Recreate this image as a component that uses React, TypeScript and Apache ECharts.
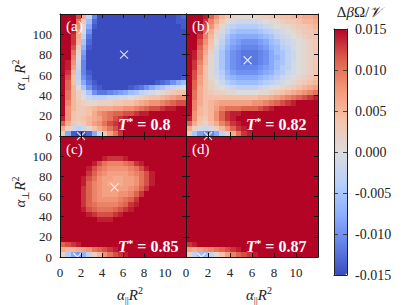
import React, { useEffect, useRef } from 'react';
import * as echarts from 'echarts';

// grid cell centres (alpha_par R^2 and alpha_perp R^2)
const xCenters = [0.25,0.75,1.25,1.75,2.25,2.75,3.25,3.75,4.25,4.75,5.25,5.75,6.25,6.75,7.25,7.75,8.25,8.75,9.25,9.75,10.25,10.75,11.25,11.75];
const yCenters = [117.5,112.5,107.5,102.5,97.5,92.5,87.5,82.5,77.5,72.5,67.5,62.5,57.5,52.5,47.5,42.5,37.5,32.5,27.5,22.5,17.5,12.5,7.5,2.5];

// Delta beta Omega / V, in units of 1e-3, rows from top (y=117.5) to bottom (y=2.5)
const fieldA = [
  [15,15,15,12,6,-3,-11,-15,-15,-15,-15,-15,-15,-15,-15,-15,-15,-15,-15,-15,-15,-15,-14,-13],
  [15,15,15,10,3,-6,-13,-15,-15,-15,-15,-15,-15,-15,-15,-15,-15,-15,-15,-15,-15,-15,-14,-14],
  [15,15,14,9,1,-8,-14,-15,-15,-15,-15,-15,-15,-15,-15,-15,-15,-15,-15,-15,-15,-15,-15,-14],
  [15,15,14,7,-1,-10,-15,-15,-15,-15,-15,-15,-15,-15,-15,-15,-15,-15,-15,-15,-15,-15,-15,-15],
  [15,15,13,6,-3,-12,-15,-15,-15,-15,-15,-15,-15,-15,-15,-15,-15,-15,-15,-15,-15,-15,-15,-15],
  [15,15,13,5,-5,-13,-15,-15,-15,-15,-15,-15,-15,-15,-15,-15,-15,-15,-15,-15,-15,-15,-15,-15],
  [15,15,12,3,-7,-14,-15,-15,-15,-15,-15,-15,-15,-15,-15,-15,-15,-15,-15,-15,-15,-15,-15,-15],
  [15,15,10,1,-9,-15,-15,-15,-15,-15,-15,-15,-15,-15,-15,-15,-15,-15,-15,-15,-15,-15,-15,-15],
  [15,15,9,0,-10,-15,-15,-15,-15,-15,-15,-15,-15,-15,-15,-15,-15,-15,-15,-15,-15,-15,-15,-15],
  [15,14,8,-1,-11,-15,-15,-15,-15,-15,-15,-15,-15,-15,-15,-15,-15,-15,-15,-15,-15,-15,-15,-15],
  [15,14,7,-2,-11,-15,-15,-15,-15,-15,-15,-15,-15,-15,-15,-15,-15,-15,-15,-15,-15,-15,-15,-15],
  [15,13,5,-3,-11,-14,-15,-15,-15,-15,-15,-15,-15,-15,-15,-15,-15,-15,-15,-15,-15,-15,-15,-15],
  [15,12,4,-3,-10,-13,-15,-15,-15,-15,-15,-15,-15,-15,-15,-15,-15,-15,-15,-15,-15,-15,-15,-14],
  [15,11,4,-2,-8,-12,-14,-15,-15,-15,-15,-15,-15,-15,-15,-15,-15,-15,-14,-13,-12,-10,-8,-6],
  [15,11,5,0,-5,-10,-13,-14,-15,-15,-15,-15,-15,-14,-13,-12,-10,-8,-6,-5,-3,-2,-1,0],
  [15,10,5,2,-1,-5,-10,-12,-12,-11,-10,-9,-8,-6,-5,-3,-2,-1,0,1,2,3,4,4],
  [15,10,5,2,0,-2,-3,-3,-3,-2,-2,-1,-1,0,1,2,3,4,4,5,6,7,8,8],
  [15,9,5,3,2,1,1,2,2,2,3,3,4,4,5,6,7,8,8,9,10,11,12,12],
  [15,8,5,3,3,4,5,6,6,6,7,7,8,8,9,10,11,12,12,13,14,14,15,15],
  [15,8,4,3,3,4,6,8,9,10,11,11,12,12,13,14,14,15,15,15,15,15,15,15],
  [14,8,4,3,4,5,6,7,9,10,12,13,14,15,15,15,15,15,15,15,15,15,15,15],
  [11,6,3,2,3,5,7,8,10,12,13,14,15,15,15,15,15,15,15,15,15,15,15,15],
  [6,2,-2,-3,-2,1,4,6,8,10,12,14,15,15,15,15,15,15,15,15,15,15,15,15],
  [3,-8,-14,-15,-15,-13,-8,-2,3,7,10,13,15,15,15,15,15,15,15,15,15,15,15,15],
];

const fieldB = [
  [15,15,15,14,11,8,5,3,2,1,1,1,1,2,2,3,3,4,4,5,5,6,6,7],
  [15,15,15,13,9,6,3,1,-1,-2,-2,-2,-2,-1,0,1,1,2,3,3,4,5,5,6],
  [15,15,14,12,8,4,1,-2,-3,-4,-4,-4,-4,-3,-2,-1,0,1,1,2,3,3,4,5],
  [15,15,14,11,6,2,-1,-3,-5,-6,-6,-6,-6,-5,-4,-3,-2,-1,0,1,2,3,3,4],
  [15,15,13,9,5,1,-2,-5,-7,-8,-8,-8,-8,-7,-6,-5,-3,-2,-1,0,1,2,3,3],
  [15,15,12,8,4,0,-3,-6,-8,-9,-10,-10,-10,-9,-8,-6,-5,-3,-2,-1,0,1,2,3],
  [15,15,11,7,3,-1,-4,-7,-9,-10,-11,-11,-11,-10,-9,-7,-6,-4,-3,-1,0,1,2,3],
  [15,14,10,6,2,-2,-5,-8,-10,-11,-12,-12,-12,-11,-10,-8,-6,-5,-3,-2,0,1,2,3],
  [15,14,10,5,1,-2,-5,-8,-10,-11,-12,-12,-12,-11,-10,-8,-7,-5,-3,-2,0,1,2,3],
  [15,13,9,5,1,-2,-5,-8,-10,-11,-12,-12,-12,-11,-10,-8,-6,-5,-3,-1,0,1,2,3],
  [15,13,8,4,1,-2,-5,-8,-10,-11,-11,-11,-11,-10,-9,-8,-6,-4,-3,-1,0,1,2,3],
  [15,12,8,4,1,-2,-4,-7,-9,-10,-10,-10,-10,-9,-8,-7,-5,-4,-2,-1,0,1,2,3],
  [15,12,7,4,1,-1,-3,-6,-7,-8,-8,-8,-8,-7,-6,-5,-4,-2,-1,0,1,2,3,4],
  [15,11,7,4,2,0,-2,-4,-5,-6,-6,-6,-6,-5,-4,-3,-2,-1,0,1,2,3,4,5],
  [15,11,6,4,2,1,0,-1,-2,-3,-3,-3,-3,-2,-1,0,0,1,2,3,4,5,6,7],
  [15,10,6,4,3,2,2,1,1,0,0,0,0,1,1,2,3,4,5,6,7,8,9,10],
  [15,10,6,4,4,4,4,4,4,4,4,4,4,5,5,6,7,8,9,10,11,12,13,14],
  [15,9,6,4,5,6,7,7,7,7,7,7,8,8,9,10,11,12,13,14,15,15,15,15],
  [15,9,5,4,5,7,9,10,10,10,11,11,11,12,13,14,15,15,15,15,15,15,15,15],
  [15,8,5,4,5,8,11,13,14,14,15,15,15,15,15,15,15,15,15,15,15,15,15,15],
  [14,8,4,3,5,8,11,13,14,15,15,15,15,15,15,15,15,15,15,15,15,15,15,15],
  [11,6,3,2,4,6,9,11,13,14,15,15,15,15,15,15,15,15,15,15,15,15,15,15],
  [6,2,-1,-2,-1,2,5,8,11,13,14,15,15,15,15,15,15,15,15,15,15,15,15,15],
  [3,-5,-9,-11,-11,-8,-3,2,6,10,13,14,15,15,15,15,15,15,15,15,15,15,15,15],
];

const fieldC = [
  [15,15,15,15,15,15,15,15,15,15,15,15,15,15,15,15,15,15,15,15,15,15,15,15],
  [15,15,15,15,15,15,15,15,15,15,15,15,15,15,15,15,15,15,15,15,15,15,15,15],
  [15,15,15,15,15,15,15,15,15,15,15,15,15,15,15,15,15,15,15,15,15,15,15,15],
  [15,15,15,15,15,15,15,15,15,15,15,15,15,15,15,15,15,15,15,15,15,15,15,15],
  [15,15,15,15,15,15,15,15,14,13,13,13,14,15,15,15,15,15,15,15,15,15,15,15],
  [15,15,15,15,15,15,14,12,10,9,9,9,10,11,13,14,15,15,15,15,15,15,15,15],
  [15,15,15,15,15,14,12,10,9,8,8,8,8,9,10,12,14,15,15,15,15,15,15,15],
  [15,15,15,15,15,13,11,9,8,7,7,7,7,8,9,10,12,14,15,15,15,15,15,15],
  [15,15,15,15,14,12,10,8,7,7,6,6,7,7,8,10,12,14,15,15,15,15,15,15],
  [15,15,15,15,14,11,9,8,7,6,6,6,7,7,8,10,12,14,15,15,15,15,15,15],
  [15,15,15,15,13,11,9,8,7,7,7,7,7,8,9,11,13,15,15,15,15,15,15,15],
  [15,15,15,15,13,11,9,8,7,7,7,8,8,9,11,13,15,15,15,15,15,15,15,15],
  [15,15,15,15,13,11,9,8,8,8,8,9,10,11,13,15,15,15,15,15,15,15,15,15],
  [15,15,15,15,13,11,10,9,9,9,9,10,11,13,14,15,15,15,15,15,15,15,15,15],
  [15,15,15,15,14,12,11,10,10,10,11,12,13,14,15,15,15,15,15,15,15,15,15,15],
  [15,15,15,15,15,14,13,12,12,12,13,14,15,15,15,15,15,15,15,15,15,15,15,15],
  [15,15,15,15,15,15,15,14,14,14,15,15,15,15,15,15,15,15,15,15,15,15,15,15],
  [15,15,15,15,15,15,15,15,15,15,15,15,15,15,15,15,15,15,15,15,15,15,15,15],
  [15,15,15,15,15,15,15,15,15,15,15,15,15,15,15,15,15,15,15,15,15,15,15,15],
  [15,15,15,15,15,15,15,15,15,15,15,15,15,15,15,15,15,15,15,15,15,15,15,15],
  [15,15,15,15,15,15,15,15,15,15,15,15,15,15,15,15,15,15,15,15,15,15,15,15],
  [11,12,13,14,15,15,15,15,15,15,15,15,15,15,15,15,15,15,15,15,15,15,15,15],
  [6,5,5,6,7,8,10,11,12,13,14,15,15,15,15,15,15,15,15,15,15,15,15,15],
  [2,-4,-8,-9,-7,-3,2,5,8,10,12,13,14,15,15,15,15,15,15,15,15,15,15,15],
];

const fieldD = [
  [15,15,15,15,15,15,15,15,15,15,15,15,15,15,15,15,15,15,15,15,15,15,15,15],
  [15,15,15,15,15,15,15,15,15,15,15,15,15,15,15,15,15,15,15,15,15,15,15,15],
  [15,15,15,15,15,15,15,15,15,15,15,15,15,15,15,15,15,15,15,15,15,15,15,15],
  [15,15,15,15,15,15,15,15,15,15,15,15,15,15,15,15,15,15,15,15,15,15,15,15],
  [15,15,15,15,15,15,15,15,15,15,15,15,15,15,15,15,15,15,15,15,15,15,15,15],
  [15,15,15,15,15,15,15,15,15,15,15,15,15,15,15,15,15,15,15,15,15,15,15,15],
  [15,15,15,15,15,15,15,15,15,15,15,15,15,15,15,15,15,15,15,15,15,15,15,15],
  [15,15,15,15,15,15,15,15,15,15,15,15,15,15,15,15,15,15,15,15,15,15,15,15],
  [15,15,15,15,15,15,15,15,15,15,15,15,15,15,15,15,15,15,15,15,15,15,15,15],
  [15,15,15,15,15,15,15,15,15,15,15,15,15,15,15,15,15,15,15,15,15,15,15,15],
  [15,15,15,15,15,15,15,15,15,15,15,15,15,15,15,15,15,15,15,15,15,15,15,15],
  [15,15,15,15,15,15,15,15,15,15,15,15,15,15,15,15,15,15,15,15,15,15,15,15],
  [15,15,15,15,15,15,15,15,15,15,15,15,15,15,15,15,15,15,15,15,15,15,15,15],
  [15,15,15,15,15,15,15,15,15,15,15,15,15,15,15,15,15,15,15,15,15,15,15,15],
  [15,15,15,15,15,15,15,15,15,15,15,15,15,15,15,15,15,15,15,15,15,15,15,15],
  [15,15,15,15,15,15,15,15,15,15,15,15,15,15,15,15,15,15,15,15,15,15,15,15],
  [15,15,15,15,15,15,15,15,15,15,15,15,15,15,15,15,15,15,15,15,15,15,15,15],
  [15,15,15,15,15,15,15,15,15,15,15,15,15,15,15,15,15,15,15,15,15,15,15,15],
  [15,15,15,15,15,15,15,15,15,15,15,15,15,15,15,15,15,15,15,15,15,15,15,15],
  [15,15,15,15,15,15,15,15,15,15,15,15,15,15,15,15,15,15,15,15,15,15,15,15],
  [15,15,15,15,15,15,15,15,15,15,15,15,15,15,15,15,15,15,15,15,15,15,15,15],
  [13,14,15,15,15,15,15,15,15,15,15,15,15,15,15,15,15,15,15,15,15,15,15,15],
  [7,6,7,8,9,10,11,12,13,14,15,15,15,15,15,15,15,15,15,15,15,15,15,15],
  [2,-3,-6,-6,-3,1,4,7,9,11,12,13,14,15,15,15,15,15,15,15,15,15,15,15],
];

// minima markers (x)
const markersA = [[6.1, 80], [2.0, 0]];
const markersB = [[5.6, 74.5], [2.0, 0]];
const markersC = [[5.2, 69], [1.65, 0]];
const markersD = [[1.4, 0]];

const panelLetters = ['(a)', '(b)', '(c)', '(d)'];
const panelTemps = ['0.8', '0.82', '0.85', '0.87'];

const colorbarMin = -0.015;
const colorbarMax = 0.015;
const colorbarStep = 0.005;

const fields = [fieldA, fieldB, fieldC, fieldD];
const markers = [markersA, markersB, markersC, markersD];

const FONT = 'Liberation Serif';
const coolwarm = ['#3b4cc0', '#6282ea', '#8db0fe', '#b8d0f9', '#dddcdc', '#f5c4ac', '#f49a7b', '#de604d', '#b40426'];

const HX = 0.25;
const HY = 2.5;

const toCells = (field: number[][]) => {
  const out: number[][] = [];
  field.forEach((row, i) => {
    row.forEach((v, j) => {
      out.push([xCenters[j], yCenters[i], v / 1000]);
    });
  });
  return out;
};

const renderItem = (params: any, api: any) => {
  const x = api.value(0);
  const y = api.value(1);
  const p0 = api.coord([x - HX, y + HY]);
  const p1 = api.coord([x + HX, y - HY]);
  const x0 = Math.round(p0[0]);
  const y0 = Math.round(p0[1]);
  const x1 = Math.round(p1[0]);
  const y1 = Math.round(p1[1]);
  return {
    type: 'rect',
    shape: { x: x0, y: y0, width: x1 - x0, height: y1 - y0 },
    style: { fill: api.visual('color') },
  };
};

const grids = [
  { left: 60, top: 14, width: 126, height: 122 },
  { left: 186, top: 14, width: 132, height: 122 },
  { left: 60, top: 136, width: 126, height: 121 },
  { left: 186, top: 136, width: 132, height: 121 },
  { left: 334, top: 29, width: 13, height: 246 },
];

const lineCol = '#151515';
const labelStyle = { fontFamily: FONT, fontSize: 13, color: '#222' };

function buildOption() {
  const xAxis: any[] = [];
  const yAxis: any[] = [];
  for (let k = 0; k < 4; k++) {
    const showX = k >= 2;
    const showY = k % 2 === 0;
    const base = {
      gridIndex: k,
      type: 'value',
      z: 10,
      axisLine: { show: true, onZero: false, lineStyle: { color: lineCol, width: 1 } },
      axisTick: { show: true, inside: true, length: 4, lineStyle: { color: lineCol, width: 1 } },
      splitLine: { show: false },
    };
    xAxis.push({ ...base, min: 0, max: 12, interval: 2, position: 'bottom',
      axisLabel: { show: showX, showMaxLabel: false, margin: 9, ...labelStyle } });
    xAxis.push({ ...base, min: 0, max: 12, interval: 2, position: 'top', axisLabel: { show: false } });
    yAxis.push({ ...base, min: 0, max: 120, interval: 20, position: 'left',
      axisLabel: { show: showY, showMaxLabel: false, margin: 8, ...labelStyle } });
    yAxis.push({ ...base, min: 0, max: 120, interval: 20, position: 'right', axisLabel: { show: false } });
  }
  // colorbar frame + ticks
  const cbBase = {
    gridIndex: 4, z: 10,
    axisLine: { show: true, onZero: false, lineStyle: { color: '#222', width: 1 } },
    axisTick: { show: false },
  };
  xAxis.push({ ...cbBase, type: 'value', min: 0, max: 1, position: 'bottom', axisLabel: { show: false }, splitLine: { show: false } });
  xAxis.push({ ...cbBase, type: 'value', min: 0, max: 1, position: 'top', axisLabel: { show: false }, splitLine: { show: false } });
  yAxis.push({ ...cbBase, type: 'value', min: colorbarMin, max: colorbarMax, interval: colorbarStep, position: 'right',
    axisLabel: { show: true, margin: 8, fontFamily: FONT, fontSize: 14, color: '#222',
      formatter: (v: number) => (Math.abs(v) < 1e-9 ? '0.000' : v.toFixed(3)) },
    splitLine: { show: true, lineStyle: { color: '#444', width: 1.2, type: [4, 5] } } });
  yAxis.push({ ...cbBase, type: 'value', min: colorbarMin, max: colorbarMax, interval: colorbarStep, position: 'left',
    axisLabel: { show: false }, splitLine: { show: false } });

  const series: any[] = [];
  fields.forEach((f, k) => {
    series.push({
      type: 'custom', xAxisIndex: 2 * k, yAxisIndex: 2 * k, data: toCells(f),
      encode: { x: 0, y: 1 }, renderItem, clip: true, silent: true, z: 2,
    });
  });
  markers.forEach((m, k) => {
    series.push({
      type: 'scatter', xAxisIndex: 2 * k, yAxisIndex: 2 * k, data: m,
      symbol: 'path://M0,0L10,10M10,0L0,10', symbolSize: 8,
      itemStyle: { color: 'rgba(0,0,0,0)', borderColor: '#ffffff', borderWidth: 1.2 },
      silent: true, z: 5, clip: true,
    });
  });

  const graphic: any[] = [];
  const letterPos = [[66, 26], [192, 26], [66, 149], [192, 149]];
  const tempPos = [[118, 124], [246, 124], [118, 246], [246, 246]];
  panelLetters.forEach((t, k) => {
    graphic.push({ type: 'text', x: letterPos[k][0], y: letterPos[k][1], z: 20,
      style: { text: t, fill: '#ffffff', fontFamily: FONT, fontSize: 15, verticalAlign: 'middle', align: 'left' } });
  });
  panelTemps.forEach((t, k) => {
    graphic.push({ type: 'text', x: tempPos[k][0], y: tempPos[k][1], z: 20,
      style: {
        text: `{t|T}{s|*}{n| = ${t}}`, verticalAlign: 'middle', align: 'left',
        rich: {
          t: { fill: '#fff', fontFamily: FONT, fontSize: 16, fontStyle: 'italic', fontWeight: 'bold', lineHeight: 18 },
          s: { fill: '#fff', fontFamily: FONT, fontSize: 11, fontWeight: 'bold', lineHeight: 11, verticalAlign: 'top' },
          n: { fill: '#fff', fontFamily: FONT, fontSize: 16, fontWeight: 'bold', lineHeight: 18 },
        },
      } });
  });
  const mathRich = (sub: string) => ({
    text: `{a|α}{s|${sub}}{r|R}{p|2}`,
    align: 'center', verticalAlign: 'middle',
    rich: {
      a: { fill: '#222', fontFamily: FONT, fontSize: 15, fontStyle: 'italic', lineHeight: 20 },
      s: { fill: '#222', fontFamily: FONT, fontSize: 10, lineHeight: 10, verticalAlign: 'bottom' },
      r: { fill: '#222', fontFamily: FONT, fontSize: 15, fontStyle: 'italic', lineHeight: 20 },
      p: { fill: '#222', fontFamily: FONT, fontSize: 10, lineHeight: 10, verticalAlign: 'top' },
    },
  });
  graphic.push({ type: 'text', x: 130, y: 295, style: mathRich('||') });
  graphic.push({ type: 'text', x: 259, y: 295, style: mathRich('||') });
  graphic.push({ type: 'text', x: 20, y: 75, rotation: Math.PI / 2, style: mathRich('⊥') });
  graphic.push({ type: 'text', x: 20, y: 192, rotation: Math.PI / 2, style: mathRich('⊥') });
  graphic.push({ type: 'text', x: 359, y: 12,
    style: {
      text: '{n|Δ}{i|β}{n|Ω/}{i|𝒱}', align: 'center', verticalAlign: 'middle',
      rich: {
        n: { fill: '#222', fontFamily: FONT, fontSize: 15 },
        i: { fill: '#222', fontFamily: FONT, fontSize: 15, fontStyle: 'italic' },
      },
    } });

  return {
    animation: false,
    textStyle: { fontFamily: FONT },
    grid: grids.map((g) => ({ ...g, containLabel: false })),
    xAxis,
    yAxis,
    visualMap: {
      type: 'continuous', min: colorbarMin, max: colorbarMax, dimension: 2,
      seriesIndex: [0, 1, 2, 3], calculable: false, show: true,
      orient: 'vertical', left: 334, top: 29, itemWidth: 13, itemHeight: 246, padding: 0,
      inRange: { color: coolwarm }, text: null, hoverLink: false,
    },
    series,
    graphic,
  };
}

export default function App() {
  const ref = useRef<HTMLDivElement>(null);
  useEffect(() => {
    if (!ref.current) return;
    const chart = echarts.init(ref.current, undefined, { renderer: 'svg' });
    chart.setOption(buildOption() as any);
    return () => chart.dispose();
  }, []);
  return (
    <div
      ref={ref}
      style={{ position: 'fixed', left: 0, top: 0, width: 415, height: 305, background: '#fff' }}
    />
  );
}
